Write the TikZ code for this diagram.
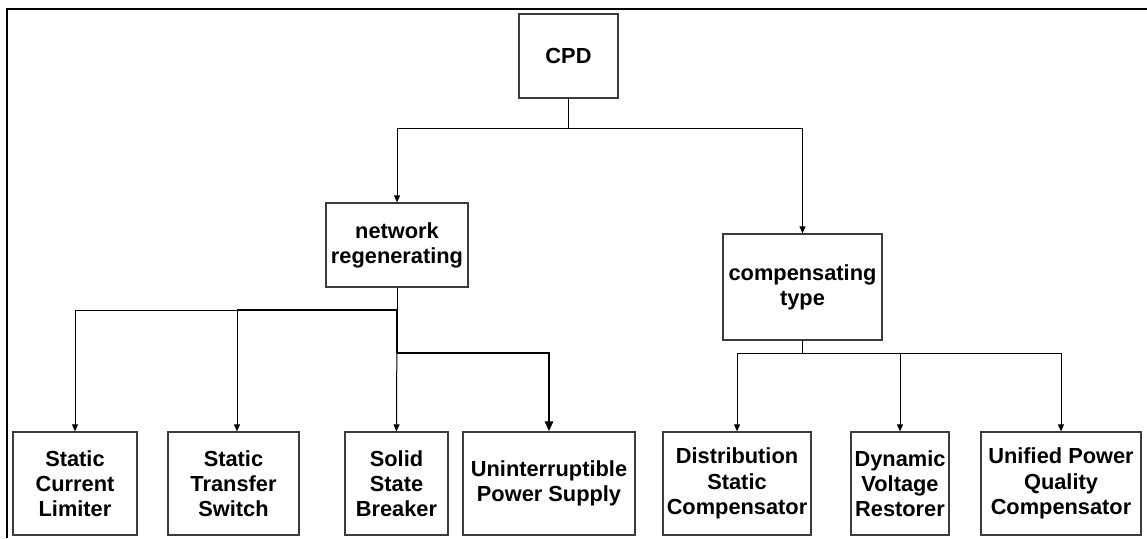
\documentclass[tikz,border=0pt]{standalone}
\usepackage{fontspec}
\setmainfont{Liberation Sans}
\usepackage{tikz}
\usetikzlibrary{arrows.meta, positioning, calc}
\definecolor{boxgray}{RGB}{60,60,60}
\tikzset{every node/.append style={align=center}}
\tikzset{
  cls/.style={rectangle, draw=boxgray, line width=0.65pt, inner sep=0pt,
    font=\fontsize{10.9}{12.6}\selectfont\bfseries, text centered, align=center},
  sz/.style 2 args={minimum width=#1*0.5pt, minimum height=#2*0.5pt},
  link/.style={black, line width=0.5pt},
  arrow/.style={-{Triangle[length=3.5pt, width=3pt]}, black, line width=0.5pt},
  heavy/.style={black, line width=0.8pt},
  bigarrow/.style={-{Triangle[length=5pt, width=4pt]}, black, line width=1.2pt},
  frame/.style={black, line width=1.2pt}
}
\begin{document}
\begin{tikzpicture}[x=0.5pt, y=-0.5pt]
  \useasboundingbox (0,0) rectangle (1147,538);
  \draw[frame] (7,538) -- (7,9) -- (1147,9);

  \node[cls, sz={99}{84}] (cpd) at (568.5,56) {CPD};
  \node[cls, sz={142}{84}] (net) at (397,245) {network\\regenerating};
  \node[cls, sz={159}{106}] (comp) at (802.5,287) {compensating\\type};

  \node[cls, sz={124}{103}] (scl) at (75,483.5) {Static\\Current\\Limiter};
  \node[cls, sz={131}{103}] (sts) at (233.5,483.5) {Static\\Transfer\\Switch};
  \node[cls, sz={103}{103}] (ssb) at (396.5,483.5) {Solid\\State\\Breaker};
  \node[cls, sz={172}{103}] (ups) at (549,483.5) {Uninterruptible\\Power Supply};
  \node[cls, sz={148}{103}] (dsc) at (737,483.5) {Distribution\\Static\\Compensator};
  \node[cls, sz={98}{103}] (dvr) at (900,483.5) {Dynamic\\Voltage\\Restorer};
  \node[cls, sz={160}{103}] (upqc) at (1061,483.5) {Unified Power\\Quality\\Compensator};

  \coordinate (cpdj) at (568.5,128);
  \coordinate (netj) at (397,310);
  \coordinate (stsj) at (237,310);
  \coordinate (upsj) at (397,353);
  \coordinate (compj) at (802.5,353);

  \draw[link] (cpd.south) -- (cpdj);
  \draw[arrow] (cpdj) -| (net.north);
  \draw[arrow] (cpdj) -| (comp.north);

  \draw[link] (net.south) -- (netj);
  \draw[arrow] (netj) -| (scl.north);
  \draw[arrow] (stsj) -- (stsj |- sts.north);
  \draw[arrow] (netj) -- (ssb.north);
  \draw[heavy] (upsj) -- (netj) -- (stsj);
  \draw[bigarrow] (upsj) -| (ups.north);

  \draw[link] (comp.south) -- (compj);
  \draw[arrow] (compj) -| (dsc.north);
  \draw[arrow] (compj) -| (dvr.north);
  \draw[arrow] (compj) -| (upqc.north);
\end{tikzpicture}
\end{document}
